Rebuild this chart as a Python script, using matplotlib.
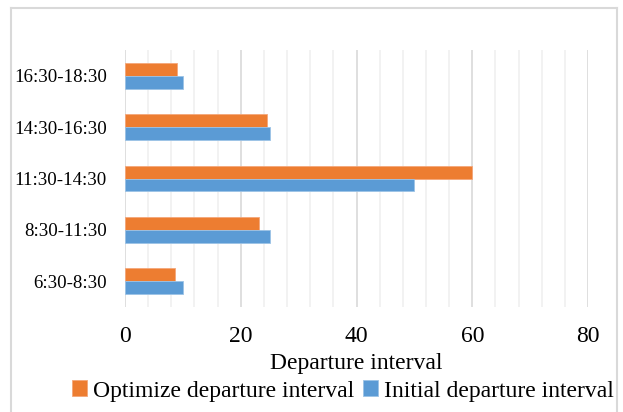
import matplotlib
matplotlib.use("Agg")
import matplotlib.pyplot as plt
from matplotlib.lines import Line2D
import numpy as np

plt.rcParams['font.family'] = ['Liberation Serif', 'DejaVu Serif']

periods = ["6:30-8:30", "8:30-11:30", "11:30-14:30", "14:30-16:30", "16:30-18:30"]
optimized = [8.7, 23.2, 60, 24.5, 9]
initial = [10, 25, 50, 25, 10]
x_ticks = [0, 20, 40, 60, 80]

orange = "#ED7D31"
blue = "#5B9BD5"

fig = plt.figure(figsize=(6.23, 4.12), dpi=100)
ax = fig.add_axes([125 / 623, 1 - 307 / 412, 463 / 623, 257 / 412])

y = np.arange(len(periods))
h = 0.25
ax.barh(y + h / 2, optimized, height=h, color=orange, edgecolor="#F4A77A", linewidth=0.6,
        label="Optimize departure interval", zorder=3)
ax.barh(y - h / 2, initial, height=h, color=blue, edgecolor="#9CC3E6", linewidth=0.6,
        label="Initial departure interval", zorder=3)

ax.set_xlim(0, 80)
ax.set_ylim(-0.5, len(periods) - 0.5)
ax.set_xticks(x_ticks)
ax.set_xticks(np.arange(0, 81, 4), minor=True)
ax.grid(axis="x", which="minor", color="#F0F0F0", linewidth=1.2, zorder=0)
ax.grid(axis="x", which="major", color="#D9D9D9", linewidth=1.2, zorder=1)
ax.set_yticks(y)
ax.set_yticklabels(periods)
for s in ax.spines.values():
    s.set_visible(False)
ax.tick_params(axis="both", which="both", length=0)
ax.tick_params(axis="x", labelsize=17, pad=14)
ax.tick_params(axis="y", labelsize=13.6, pad=13)
ax.set_xlabel("Departure interval", fontsize=17, labelpad=4)

handles, labels = ax.get_legend_handles_labels()
fig.legend(handles, labels, loc="center", bbox_to_anchor=(343 / 623, 1 - 391 / 412),
           ncol=2, frameon=False, fontsize=17, handlelength=0.65, handleheight=0.65,
           handletextpad=0.25, columnspacing=0.35, borderaxespad=0)

# Light frame around the chart area
frame = "#D9D9D9"
fig.add_artist(Line2D([11 / 623, 11 / 623], [0, 1 - 8 / 412], color=frame, lw=1.5))
fig.add_artist(Line2D([617 / 623, 617 / 623], [0, 1 - 8 / 412], color=frame, lw=1.5))
fig.add_artist(Line2D([11 / 623, 617 / 623], [1 - 8 / 412, 1 - 8 / 412], color=frame, lw=1.5))

fig.savefig("out.png", dpi=100, facecolor="white")
